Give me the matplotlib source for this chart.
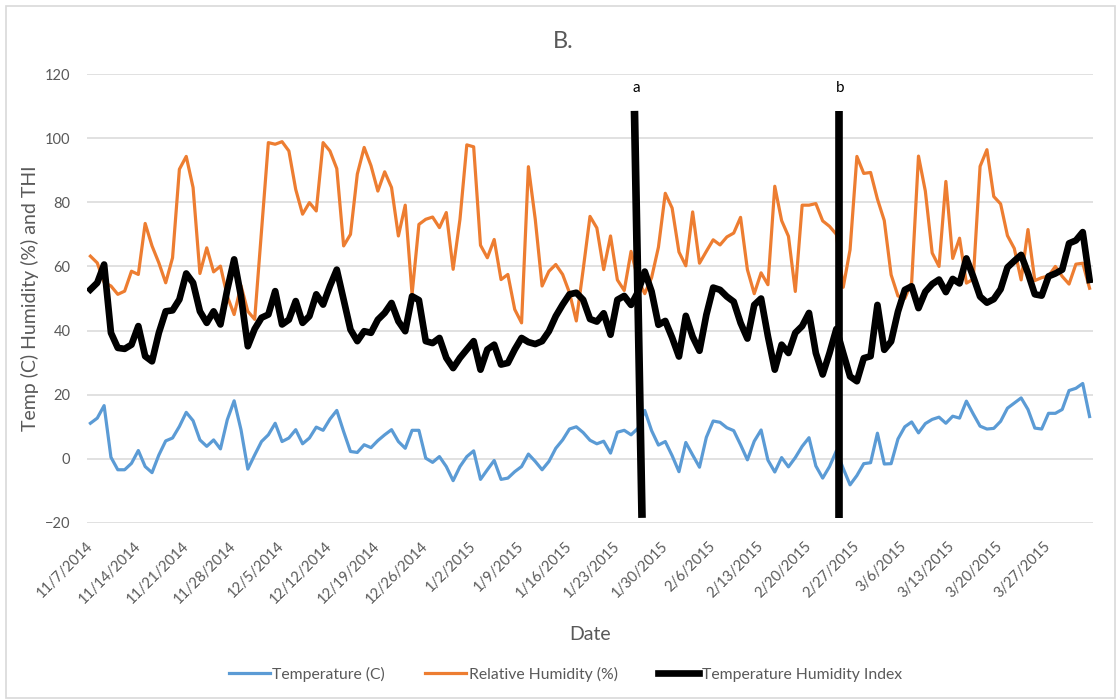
import matplotlib
matplotlib.use("Agg")
import matplotlib.pyplot as plt
from matplotlib.patches import Rectangle
import numpy as np
import pandas as pd

plt.rcParams['font.family'] = ['Lato', 'DejaVu Sans']

start_date = '2014-11-07'

temperature = [
    11.1, 12.7, 16.6, 0.5, -3.4, -3.4, -1.4, 2.6, -2.4, -4.3,
    1.2, 5.6, 6.5, 10.1, 14.5, 11.9, 5.9, 3.9, 5.9, 3.1,
    12.2, 18.1, 9.1, -3.2, 1.2, 5.4, 7.5, 11.1, 5.4, 6.5,
    9.1, 4.7, 6.5, 9.9, 8.9, 12.4, 15.1, 8.5, 2.3, 2.0,
    4.4, 3.5, 5.7, 7.5, 9.1, 5.4, 3.3, 8.9, 8.9, 0.2,
    -1.1, 0.7, -2.4, -6.8, -2.4, 0.7, 2.5, -6.4, -3.4, -0.5,
    -6.4, -6.0, -4.0, -2.4, 1.5, -0.8, -3.4, -0.8, 3.3, 5.9,
    9.3, 10.0, 8.2, 5.8, 4.7, 5.5, 1.8, 8.3, 8.9, 7.5,
    9.5, 15.1, 8.8, 4.3, 5.4, 1.0, -4.0, 5.1, 1.2, -2.6,
    6.7, 11.8, 11.4, 9.7, 8.8, 4.4, -0.3, 5.5, 9.0, -0.4,
    -4.1, 0.4, -2.5, 0.4, 3.9, 6.6, -2.2, -6.0, -2.4, 2.5,
    -3.0, -8.1, -5.2, -1.5, -1.2, 8.0, -1.6, -1.5, 6.2, 10.0,
    11.5, 8.1, 11.0, 12.3, 13.0, 11.1, 13.3, 12.7, 18.0, 14.0,
    10.2, 9.3, 9.5, 11.7, 15.8, 17.4, 19.0, 15.4, 9.6, 9.3,
    14.2, 14.2, 15.4, 21.3, 22.0, 23.5, 13.2,
]

humidity = [
    63.2, 61.1, 55.0, 53.9, 51.3, 52.3, 58.5, 57.5, 73.4, 66.4,
    61.1, 54.9, 62.7, 90.3, 94.3, 84.6, 57.8, 65.8, 58.3, 60.1,
    50.7, 45.0, 54.0, 46.0, 43.5, 71.0, 98.6, 98.1, 98.9, 96.0,
    84.0, 76.3, 79.9, 77.3, 98.6, 96.0, 90.5, 66.4, 70.0, 88.8,
    97.1, 91.4, 83.5, 89.5, 84.6, 69.5, 79.1, 51.3, 73.1, 74.7,
    75.4, 72.1, 76.8, 59.1, 74.7, 97.9, 97.3, 66.6, 62.7, 68.4,
    55.9, 57.5, 46.6, 42.4, 91.1, 74.7, 53.9, 58.5, 60.6, 57.5,
    51.8, 43.0, 59.0, 75.6, 72.0, 59.0, 69.5, 55.8, 52.5, 64.7,
    56.0, 51.5, 56.5, 66.0, 82.8, 78.2, 64.5, 60.2, 77.0, 61.0,
    64.7, 68.3, 66.7, 69.2, 70.4, 75.3, 59.0, 51.5, 58.0, 54.3,
    85.0, 74.3, 69.4, 52.2, 79.1, 79.1, 79.6, 74.2, 72.5, 70.0,
    53.5, 65.2, 94.3, 89.0, 89.3, 81.0, 74.3, 57.4, 50.8, 50.0,
    55.0, 94.4, 83.5, 64.2, 60.0, 86.5, 62.5, 68.8, 54.8, 56.0,
    91.2, 96.4, 81.8, 79.5, 69.6, 65.6, 55.8, 71.5, 55.6, 56.5,
    57.0, 60.0, 56.9, 54.5, 60.7, 61.0, 53.2,
]

thi = [
    52.8, 54.9, 60.6, 39.3, 34.6, 34.3, 35.6, 41.4, 32.0, 30.4,
    39.3, 46.0, 46.3, 49.7, 57.8, 54.9, 46.0, 42.4, 46.0, 41.9,
    52.8, 62.2, 50.7, 35.1, 40.5, 44.0, 45.0, 52.3, 41.9, 43.4,
    49.2, 42.4, 44.5, 51.3, 48.1, 53.9, 59.0, 49.7, 40.3, 36.7,
    39.8, 39.3, 43.4, 45.5, 48.6, 42.9, 39.8, 50.7, 49.5, 36.7,
    36.1, 37.7, 31.5, 28.3, 31.5, 34.1, 36.7, 27.8, 34.1, 35.6,
    29.4, 29.9, 34.1, 37.7, 36.4, 35.8, 36.7, 39.8, 44.5, 48.1,
    51.3, 51.8, 49.6, 43.6, 42.8, 45.4, 38.7, 49.6, 50.8, 48.0,
    52.0, 58.4, 52.2, 41.8, 43.0, 37.8, 31.9, 44.6, 38.1, 33.7,
    44.9, 53.4, 52.7, 50.6, 49.0, 42.4, 37.5, 48.0, 50.0, 38.2,
    27.8, 35.6, 33.0, 39.3, 41.4, 45.5, 33.0, 26.3, 33.0, 40.5,
    33.0, 25.7, 24.2, 31.4, 32.0, 48.0, 34.0, 36.6, 45.9, 52.7,
    53.8, 47.0, 52.1, 54.5, 55.9, 52.0, 56.1, 54.7, 62.5, 56.8,
    50.6, 48.7, 49.8, 52.9, 59.7, 61.7, 63.6, 57.9, 51.3, 50.9,
    56.9, 57.8, 59.0, 67.2, 68.1, 70.7, 55.8,
]

# period markers drawn as thick bars (day index at top and bottom of the bar)
event_labels = ['a', 'b']
event_top = [79.5, 109.4]
event_bottom = [80.6, 109.4]

dates = pd.date_range(start_date, periods=len(temperature), freq='D')
x = np.arange(len(dates))
tick_pos = x[::7]
tick_labels = [f'{d.month}/{d.day}/{d.year}' for d in dates[::7]]

grey = '#595959'

fig = plt.figure(figsize=(11.17, 7.0), dpi=100)
ax = fig.add_axes([87 / 1117, 1 - 523 / 700, 1006 / 1117, 449 / 700])

ax.plot(x, temperature, color='#5B9BD5', lw=2.3, label='Temperature (C)', solid_joinstyle='round')
ax.plot(x, humidity, color='#ED7D31', lw=2.3, label='Relative Humidity (%)', solid_joinstyle='round')
ax.plot(x, thi, color='black', lw=4.8, label='Temperature Humidity Index', solid_joinstyle='round')

for lab, xt, xb in zip(event_labels, event_top, event_bottom):
    ax.plot([xt, xb], [108.5, -18.4], color='black', lw=5.5, solid_capstyle='butt')
    ax.text(xt + 0.2, 113.5, lab, ha='center', va='bottom', fontsize=11, color='black')

ax.set_xlim(-0.5, len(x) - 0.5)
ax.set_ylim(-20, 120)
ax.set_yticks(np.arange(-20, 121, 20))
ax.set_xticks(tick_pos)
ax.set_xticklabels(tick_labels, rotation=45, ha='right', va='center',
                   rotation_mode='anchor')
ax.tick_params(axis='both', length=0, labelsize=10.5, colors=grey)
ax.tick_params(axis='x', pad=15)
ax.tick_params(axis='y', pad=12)
ax.grid(axis='y', color='#d9d9d9', lw=1.1)
ax.set_axisbelow(True)
for s in ax.spines.values():
    s.set_visible(False)

ax.set_ylabel('Temp (C) Humidity (%) and THI', fontsize=14, color=grey, labelpad=4)
ax.set_xlabel('Date', fontsize=14, color=grey, labelpad=14)
fig.text(563 / 1117, 1 - 42 / 700, 'B.', ha='center', va='center', fontsize=17, color=grey)

leg = fig.legend(loc='center', bbox_to_anchor=(0.506, 1 - 674 / 700), ncol=3, frameon=False,
                 fontsize=11.3, handlelength=2.6, columnspacing=2.6, handletextpad=0.15)
for t in leg.get_texts():
    t.set_color(grey)

fig.add_artist(Rectangle((6 / 1117, 2 / 700), 1109 / 1117, 692 / 700, transform=fig.transFigure,
                         fill=False, edgecolor='#d9d9d9', lw=1.2))

fig.savefig('out.png', dpi=100)
